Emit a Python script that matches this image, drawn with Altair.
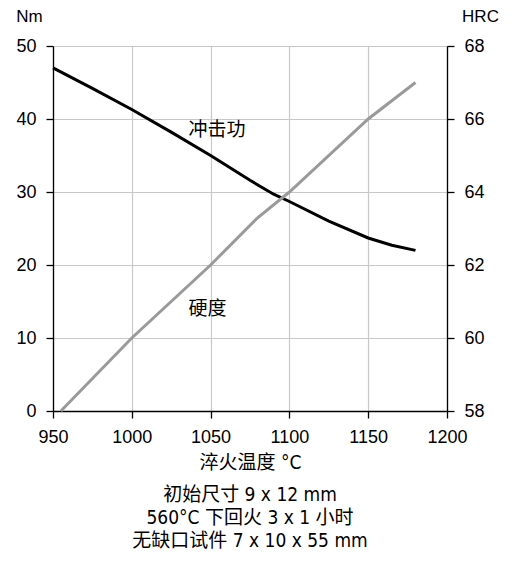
import altair as alt
import pandas as pd

# 冲击功 (Nm, left axis)
impact_T = [950, 975, 1000, 1025, 1050, 1075, 1090, 1100, 1125, 1150, 1165, 1180]
impact_v = [47.0, 44.2, 41.3, 38.2, 35.0, 31.6, 29.7, 28.7, 26.0, 23.7, 22.7, 22.0]

# 硬度 (HRC, right axis)
hard_T = [955, 1000, 1050, 1080, 1100, 1150, 1180]
hard_v = [58.0, 60.0, 62.0, 63.3, 64.0, 66.0, 67.0]

label_text = ["冲击功", "硬度"]
label_T = [1054, 1048]
label_v = [38.5, 14.0]

x_ticks = [950, 1000, 1050, 1100, 1150, 1200]
left_ticks = [0, 10, 20, 30, 40, 50]
right_ticks = [58, 60, 62, 64, 66, 68]

df_i = pd.DataFrame({"T": impact_T, "v": impact_v})
df_h = pd.DataFrame({"T": hard_T, "v": hard_v})
df_l = pd.DataFrame({"T": label_T, "v": label_v, "t": label_text})

LAB = "Liberation Sans"
CJK = "Noto Sans CJK SC"
NARROW = "DejaVu Sans Condensed, Liberation Sans, Noto Sans CJK SC"

xs = alt.Scale(domain=[950, 1200], nice=False)
xaxis = alt.Axis(values=x_ticks, format="d", labelFlush=False, labelOverlap=False,
                 title="淬火温度 °C", titleFont=NARROW, titleFontSize=19,
                 titleFontWeight="normal", titleColor="black", titleY=51,
                 titleBaseline="middle",
                 labelFont=LAB, labelFontSize=18, labelColor="black", labelPadding=10,
                 grid=True, gridColor="#c8c8c8", gridWidth=1.2,
                 domainColor="black", domainWidth=1.3, tickColor="black", tickSize=7,
                 tickWidth=1.3)

ly = alt.Scale(domain=[0, 50], nice=False)
laxis = alt.Axis(values=left_ticks, labelFlush=False, title="Nm", titleAngle=0,
                 titleX=-24, titleY=-30,
                 titleAlign="center", titleBaseline="middle", titleFont=LAB,
                 titleFontSize=17, titleFontWeight="normal", titleColor="black",
                 labelFont=LAB, labelFontSize=18, labelColor="black", labelPadding=10,
                 grid=True, gridColor="#c8c8c8", gridWidth=1.2,
                 domainColor="black", domainWidth=1.3, tickColor="black", tickSize=7,
                 tickWidth=1.3)

ry = alt.Scale(domain=[58, 68], nice=False)
raxis = alt.Axis(values=right_ticks, labelFlush=False, orient="right", title="HRC",
                 titleAngle=0,
                 titleX=33, titleY=-30, titleAlign="center", titleBaseline="middle",
                 titleFont=LAB, titleFontSize=17, titleFontWeight="normal",
                 titleColor="black", labelFont=LAB, labelFontSize=18, labelColor="black",
                 labelPadding=10, grid=False, domainColor="black", domainWidth=1.3,
                 tickColor="black", tickSize=7, tickWidth=1.3)

black = alt.Chart(df_i).mark_line(color="black", strokeWidth=3).encode(
    x=alt.X("T:Q", scale=xs, axis=xaxis),
    y=alt.Y("v:Q", scale=ly, axis=laxis),
)
labels = alt.Chart(df_l).mark_text(font=CJK, fontSize=19, color="black").encode(
    x=alt.X("T:Q", scale=xs),
    y=alt.Y("v:Q", scale=ly),
    text="t:N",
)
grey = alt.Chart(df_h).mark_line(color="#9a9a9a", strokeWidth=3).encode(
    x=alt.X("T:Q", scale=xs),
    y=alt.Y("v:Q", scale=ry, axis=raxis),
)

chart = alt.layer(alt.layer(black, labels), grey).resolve_scale(y="independent").properties(
    width=394, height=365,
    autosize=alt.AutoSizeParams(type="none"),
    padding={"left": 45, "top": 38, "right": 55, "bottom": 150},
    title=alt.TitleParams(
        text=["初始尺寸  9 x 12 mm", "560°C 下回火 3 x 1 小时", "无缺口试件 7 x 10 x 55 mm"],
        orient="bottom", font=NARROW, fontSize=19, fontWeight="normal", color="black",
        lineHeight=23, offset=14, anchor="middle",
    ),
).configure_view(stroke=None)

chart.save("out.html", embed_options={"renderer": "svg", "actions": False})
